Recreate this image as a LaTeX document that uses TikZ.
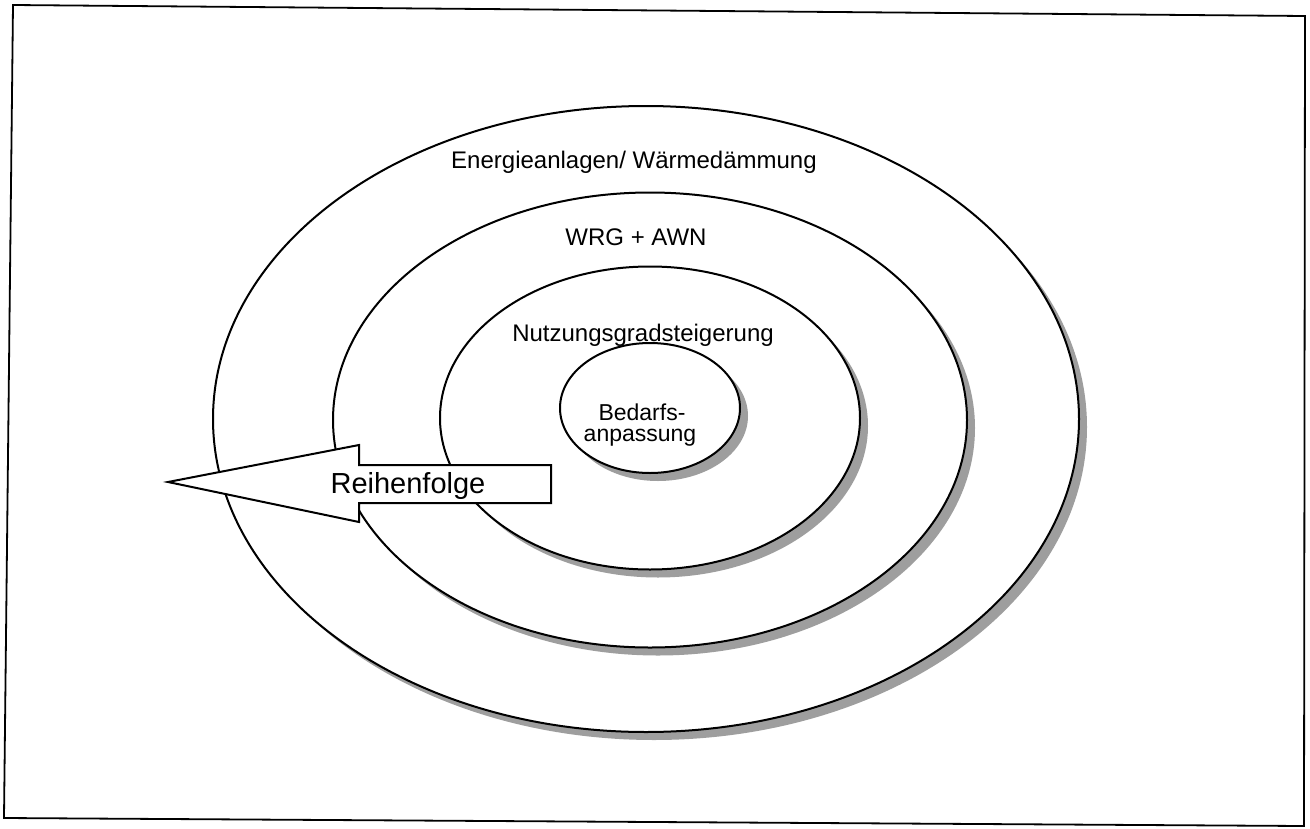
\documentclass[tikz,border=0pt]{standalone}
\usepackage{fontspec}
\setmainfont{Liberation Sans}
\usetikzlibrary{shapes.geometric,shadows}
\begin{document}
\begin{tikzpicture}[x=1pt,y=-1pt,
  ring/.style={ellipse, draw=black, line width=2pt, fill=white, inner sep=0pt,
    drop shadow={shadow xshift=8pt, shadow yshift=-8pt, fill=black!38, opacity=1}},
  lbl/.style={anchor=base, inner sep=0pt, font=\fontsize{24}{28}\selectfont},
  frame/.style={draw=black, line width=1.8pt},
  arrowbody/.style={draw=black, line width=2pt, fill=white, line join=miter}]
  \useasboundingbox (0,0) rectangle (1310,828);
  % outer frame
  \draw[frame] (13,5) -- (1305,16) -- (1304,826) -- (4,818) -- cycle;
  % nested rings, outermost first
  \node[ring, minimum width=866pt, minimum height=626pt] (r1) at (646,419) {};
  \node[ring, minimum width=634pt, minimum height=455pt] (r2) at (650,420) {};
  \node[ring, minimum width=420pt, minimum height=303pt] (r3) at (650,418) {};
  \node[ring, minimum width=180pt, minimum height=130pt] (r4) at (650,408) {};
  % ring labels
  \node[lbl] (t1) at (634,168) {Energieanlagen/ Wärmedämmung};
  \node[lbl] (t2) at (636,245) {WRG + AWN};
  \node[lbl] (t3) at (643,341) {Nutzungsgradsteigerung};
  \node[lbl, font=\fontsize{23}{25}\selectfont] (t4a) at (642,420) {Bedarfs-};
  \node[lbl, font=\fontsize{23}{25}\selectfont] (t4b) at (640,441) {anpassung};
  % block arrow pointing outward
  \draw[arrowbody] (168,482) -- (359,445) -- (359,465) -- (551,465)
    -- (551,503) -- (359,503) -- (359,522) -- cycle;
  \node[lbl, font=\fontsize{29}{32}\selectfont] (ta) at (408,493) {Reihenfolge};
\end{tikzpicture}
\end{document}
